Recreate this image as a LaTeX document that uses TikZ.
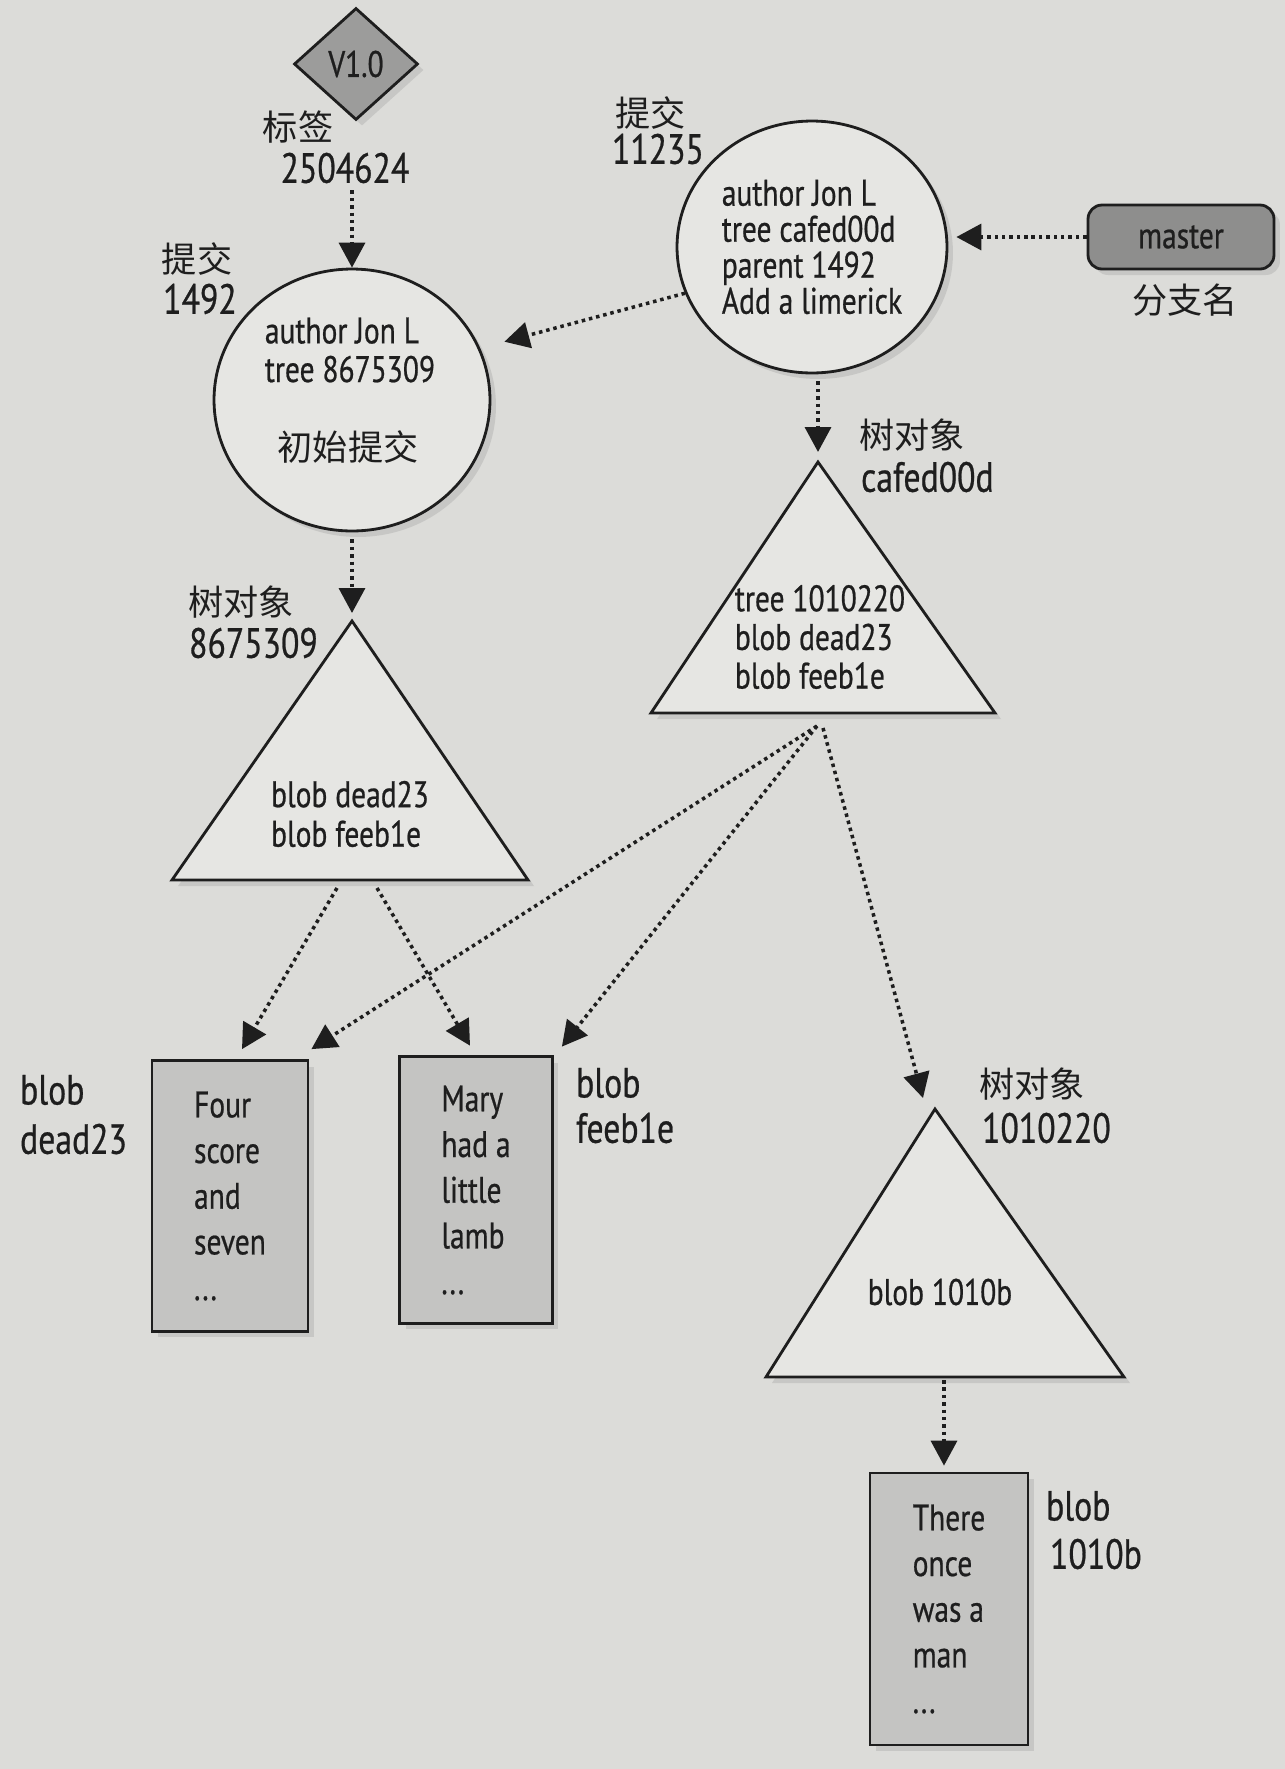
\documentclass[tikz,border=0pt]{standalone}
\usepackage{fontspec}
\setmainfont{PT Sans}[FakeStretch=0.8,FakeBold=0.6]
\newfontfamily\cjkfam{Noto Sans CJK SC}
\usetikzlibrary{shapes.geometric,shadows,arrows.meta,calc}
\definecolor{bgc}{HTML}{DCDCD9}
\definecolor{shapefill}{HTML}{E6E6E3}
\definecolor{blobfill}{HTML}{C4C4C2}
\definecolor{tagfill}{HTML}{9C9C9B}
\definecolor{branchfill}{HTML}{8E8E8D}
\definecolor{ink}{HTML}{1E1E1E}
\newcommand\mytxt{\fontsize{21}{24}\selectfont}
\newcommand\mylbl{\fontsize{24}{27}\selectfont}
\newcommand\mycjk{\cjkfam\fontsize{20}{24}\selectfont}
\begin{document}
\begin{tikzpicture}[x=0.02cm,y=-0.02cm,
  shad/.style={drop shadow={shadow xshift=0.12cm,shadow yshift=-0.12cm,opacity=0.22}},
  outl/.style={draw=ink,line width=1.6pt},
  lbl/.style={inner sep=1pt,font=\mylbl,text=ink},
  clbl/.style={inner sep=1pt,font=\mycjk,text=ink},
  innertxt/.style={inner sep=1pt,font=\mytxt,text=ink,align=left},
  commit/.style={ellipse,outl,fill=shapefill,shad,inner sep=0pt,font=\mytxt,text=ink},
  treestyle/.style={outl,fill=shapefill,shad,line join=miter},
  blobbox/.style={rectangle,outl,fill=blobfill,shad,inner sep=0pt,align=left,text=ink,
     font=\fontsize{21}{26}\selectfont},
  ptr/.style={draw=ink,line width=2pt,dash pattern=on 2pt off 2.2pt,
     -{Triangle[length=0.5cm,width=0.52cm]}}
]
\fill[bgc] (0,0) rectangle (1285,1769);
\useasboundingbox (0,0) rectangle (1285,1769);

% tag
\node[diamond,outl,fill=tagfill,shad,minimum width=2.48cm,minimum height=2.24cm,
  inner sep=0pt,font=\mytxt,text=ink] (tag) at (356,64) {V1.0};
\node[clbl] (tagl) at (298,127) {标签};
\node[lbl] (tagid) at (345,168) {2504624};

% commit 1492
\node[clbl] (c1l) at (197,259) {提交};
\node[lbl] (c1id) at (200,299) {1492};
\node[commit,minimum width=5.52cm,minimum height=5.24cm] (c1492) at (352,400) {};
\node[innertxt,font=\fontsize{21}{22}\selectfont] (c1a) at (350,350) {author Jon L\\tree 8675309};
\node[clbl] (c1b) at (348,447) {初始提交};

% commit 11235
\node[clbl,anchor=west] (c2l) at (613,113) {提交};
\node[lbl] (c2id) at (658,149) {11235};
\node[commit,minimum width=5.4cm,minimum height=5.04cm,align=left,
  font=\fontsize{21}{20.5}\selectfont] (c11235) at (812,247)
  {author Jon L\\tree cafed00d\\parent 1492\\Add a limerick};

% branch
\node[rectangle,rounded corners=0.28cm,outl,fill=branchfill,shad,minimum width=3.72cm,
  minimum height=1.28cm,font=\mytxt,text=ink] (master) at (1181,237) {master};
\node[clbl] (brl) at (1185,300) {分支名};

% tree 8675309
\coordinate (tAa) at (352,621);
\coordinate (tAl) at (172,880);
\coordinate (tAr) at (528,880);
\draw[treestyle] (tAa) -- (tAr) -- (tAl) -- cycle;
\node[innertxt,font=\fontsize{21}{22.5}\selectfont] (tAtxt) at (350,814) {blob dead23\\blob feeb1e};
\node[clbl,anchor=west] (tAl1) at (186,602) {树对象};
\node[lbl,anchor=west] (tAl2) at (187,643) {8675309};

% tree cafed00d
\coordinate (tCa) at (818,462);
\coordinate (tCl) at (651,713);
\coordinate (tCr) at (995,713);
\draw[treestyle] (tCa) -- (tCr) -- (tCl) -- cycle;
\node[innertxt,font=\fontsize{21}{22}\selectfont] (tCtxt) at (820,637) {tree 1010220\\blob dead23\\blob feeb1e};
\node[clbl,anchor=west] (tCl1) at (857,435) {树对象};
\node[lbl,anchor=west] (tCl2) at (859,477) {cafed00d};

% tree 1010220
\coordinate (tDa) at (935,1109);
\coordinate (tDl) at (766,1377);
\coordinate (tDr) at (1124,1377);
\draw[treestyle] (tDa) -- (tDr) -- (tDl) -- cycle;
\node[innertxt] (tDtxt) at (940,1292) {blob 1010b};
\node[clbl,anchor=west] (tDl1) at (977,1084) {树对象};
\node[lbl,anchor=west] (tDl2) at (980,1128) {1010220};

% blobs
\node[blobbox,minimum width=3.12cm,minimum height=5.42cm] (dead23) at (230,1196)
  {Four\\score\\and\\seven\\...};
\node[lbl,anchor=west] (bAl1) at (18,1090) {blob};
\node[lbl,anchor=west] (bAl2) at (18,1139) {dead23};

\node[blobbox,minimum width=3.06cm,minimum height=5.34cm] (feeb1e) at (476,1190)
  {Mary\\had a\\little\\lamb\\...};
\node[lbl,anchor=west] (bBl1) at (574,1083) {blob};
\node[lbl,anchor=west] (bBl2) at (574,1128) {feeb1e};

\node[blobbox,minimum width=3.16cm,minimum height=5.44cm] (b1010) at (949,1609)
  {There\\once\\was a\\man\\...};
\node[lbl,anchor=west] (bCl1) at (1044,1506) {blob};
\node[lbl,anchor=west] (bCl2) at (1048,1554) {1010b};

% connectors
\draw[ptr,shorten <=0.1cm] (c1492.north |- tagid.south) -- (c1492.north);
\draw[ptr,shorten >=0.5cm] (c11235.200) -- (c1492.22);
\draw[ptr,shorten >=0.16cm] (master.west) -- (master.west -| c11235.east);
\draw[ptr,shorten <=0.14cm,shorten >=0.2cm] (tCa |- c11235.south) -- (tCa);
\draw[ptr,shorten <=0.14cm,shorten >=0.16cm] (c1492.south) -- (tAa);

\coordinate (tAb1) at (337,888);
\coordinate (tAb2) at (377,888);
\coordinate (tCb) at (817,726);
\coordinate (tCb2) at (823,728);
\coordinate (tDb) at (944,1380);
\draw[ptr] (tAb1) -- ([xshift=0.24cm,yshift=0.2cm]dead23.north);
\draw[ptr] (tAb2) -- ([xshift=-0.12cm,yshift=0.19cm]feeb1e.north);
\draw[ptr] (tCb) -- ([xshift=0.04cm,yshift=0.2cm]dead23.north east);
\draw[ptr] (tCb) -- ([xshift=0.16cm,yshift=0.17cm]feeb1e.north east);
\draw[ptr] (tCb2) -- ($(tDa)+(-12,-11)$);
\draw[ptr,shorten >=0.12cm] (tDb) -- (tDb |- b1010.north);
\end{tikzpicture}
\end{document}
